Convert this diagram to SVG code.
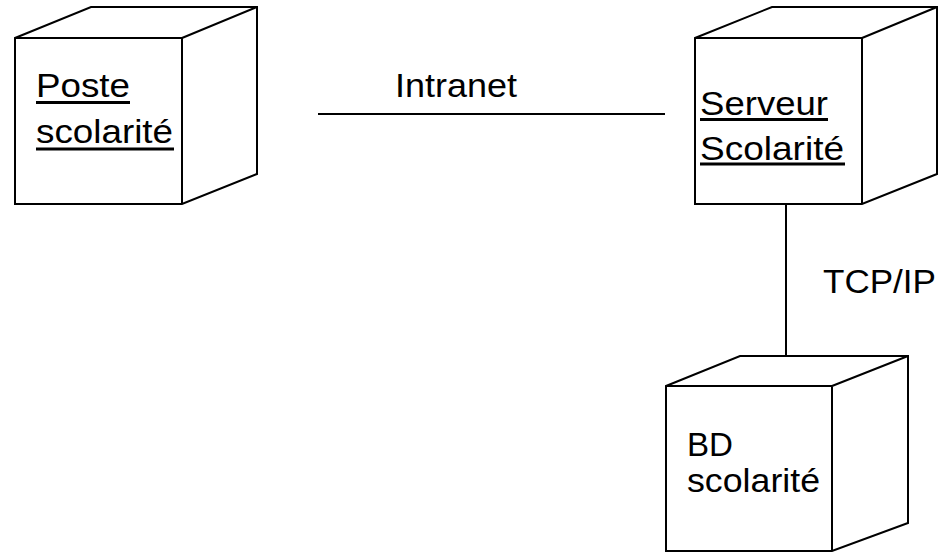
<svg xmlns="http://www.w3.org/2000/svg" width="943" height="552" viewBox="0 0 943 552">
<style>
.box{fill:#fff;stroke:#000;stroke-width:2;stroke-linejoin:miter}
.t{font-family:"Liberation Sans",Arial,sans-serif;font-size:33.5px;fill:#000}
.u{stroke:#000;stroke-width:3}
.c{stroke:#000;stroke-width:2;fill:none}
</style>
<rect width="943" height="552" fill="#fff"/>
<g id="connectors">
<line class="c" x1="318" y1="114" x2="665" y2="114"/>
<line class="c" x1="786" y1="204" x2="786" y2="356"/>
<text class="t" x="395" y="97" textLength="122" lengthAdjust="spacingAndGlyphs">Intranet</text>
<text class="t" x="823" y="293" textLength="113" lengthAdjust="spacingAndGlyphs">TCP/IP</text>
</g>
<g id="poste">
<path class="box" d="M15,38 L91,7 L257,7 L257,174 L182,204 L15,204 Z"/>
<path class="box" d="M15,38 L182,38 L182,204 M182,38 L257,7"/>
<text class="t" x="36" y="97" textLength="94" lengthAdjust="spacingAndGlyphs">Poste</text>
<line class="u" x1="36" y1="102.5" x2="130" y2="102.5"/>
<text class="t" x="36" y="143" textLength="137" lengthAdjust="spacingAndGlyphs">scolarité</text>
<line class="u" x1="36" y1="149" x2="174" y2="149"/>
</g>
<g id="serveur">
<path class="box" d="M695,38 L772,7 L937,7 L937,174 L862,204 L695,204 Z"/>
<path class="box" d="M695,38 L862,38 L862,204 M862,38 L937,7"/>
<text class="t" x="700" y="115" textLength="128" lengthAdjust="spacingAndGlyphs">Serveur</text>
<line class="u" x1="700" y1="119.5" x2="828" y2="119.5"/>
<text class="t" x="700" y="160" textLength="144" lengthAdjust="spacingAndGlyphs">Scolarité</text>
<line class="u" x1="700" y1="164" x2="845" y2="164"/>
</g>
<g id="bd">
<path class="box" d="M666,386 L740,356 L908,356 L908,523 L832,551 L666,551 Z"/>
<path class="box" d="M666,386 L832,386 L832,551 M832,386 L908,356"/>
<text class="t" x="687" y="456" textLength="46" lengthAdjust="spacingAndGlyphs">BD</text>
<text class="t" x="687" y="492" textLength="133" lengthAdjust="spacingAndGlyphs">scolarité</text>
</g>
</svg>
